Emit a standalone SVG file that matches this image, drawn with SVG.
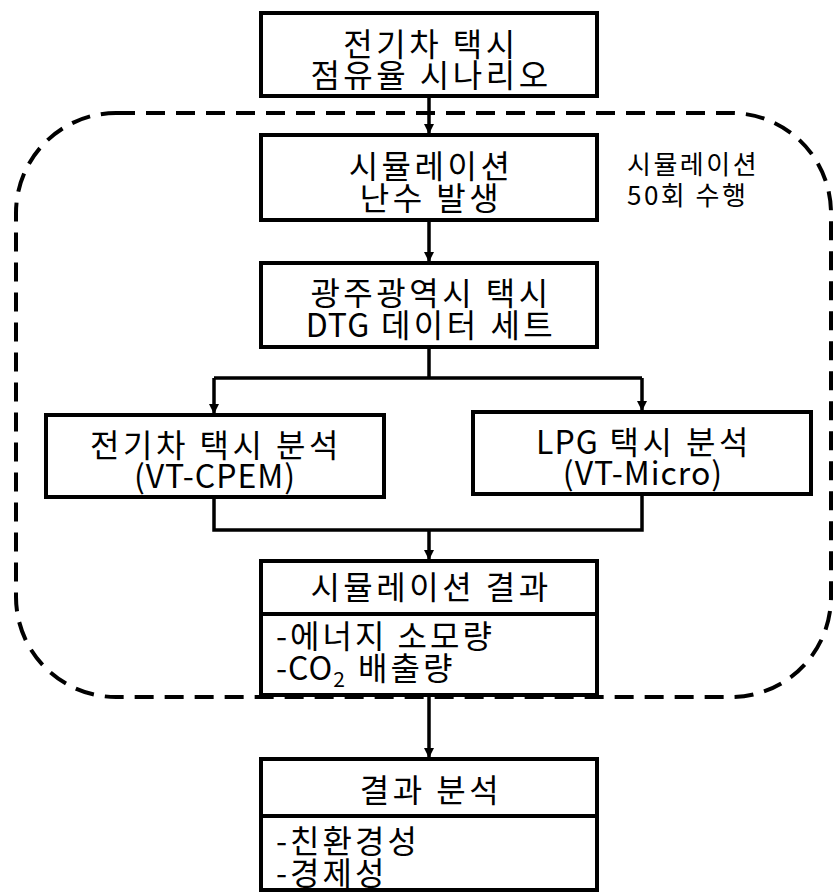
<svg xmlns="http://www.w3.org/2000/svg" width="834" height="894" viewBox="0 0 834 894">
<style>
.box{fill:#fff;stroke:#000;stroke-width:4}
.t{font-family:"Noto Sans CJK KR","Malgun Gothic",sans-serif;font-size:32px;letter-spacing:3.5px;fill:#000;text-anchor:middle}
.tl{font-family:"Noto Sans CJK KR","Malgun Gothic",sans-serif;font-size:32px;letter-spacing:3px;fill:#000}
.s{font-family:"Noto Sans CJK KR",sans-serif;font-size:26px;letter-spacing:2.5px;fill:#000}
.lat{letter-spacing:1px}
.c{fill:none;stroke:#000;stroke-width:3.5}
</style>
<defs>
<marker id="ah" markerWidth="10" markerHeight="10" refX="9" refY="5" orient="auto" markerUnits="userSpaceOnUse">
<path d="M0,0 L10,5 L0,10 z" fill="#000"/>
</marker>
</defs>
<rect x="16" y="113" width="815" height="584" rx="100" ry="100" fill="none" stroke="#000" stroke-width="4" stroke-dasharray="19,11"/>
<g id="connectors">
<path class="c" d="M429,97 V133" marker-end="url(#ah)"/>
<path class="c" d="M429,221 V261" marker-end="url(#ah)"/>
<path class="c" d="M429,348 V378 M214,378 H642"/>
<path class="c" d="M214,378 V413" marker-end="url(#ah)"/>
<path class="c" d="M642,378 V410" marker-end="url(#ah)"/>
<path class="c" d="M214,498 V530 H642 V495"/>
<path class="c" d="M429,530 V559" marker-end="url(#ah)"/>
<path class="c" d="M429,696 V757" marker-end="url(#ah)"/>
</g>
<g id="n1">
<rect class="box" x="261" y="13" width="336" height="83"/>
<text class="t" x="431" y="56">전기차 택시</text>
<text class="t" x="431" y="87">점유율 시나리오</text>
</g>
<g id="n2">
<rect class="box" x="261" y="135" width="336" height="85"/>
<text class="t" x="431" y="178">시뮬레이션</text>
<text class="t" x="431" y="210">난수 발생</text>
</g>
<g id="label">
<text class="s" x="627" y="174">시뮬레이션</text>
<text class="s" x="627" y="205">50회 수행</text>
</g>
<g id="n3">
<rect class="box" x="261" y="263" width="336" height="84"/>
<text class="t" x="431" y="305">광주광역시 택시</text>
<text class="t" x="431" y="337"><tspan class="lat">DTG</tspan> 데이터 세트</text>
</g>
<g id="n4">
<rect class="box" x="46" y="415" width="338" height="82"/>
<text class="t" x="216" y="457">전기차 택시 분석</text>
<text class="t lat" x="215" y="488">(VT-CPEM)</text>
</g>
<g id="n5">
<rect class="box" x="473" y="412" width="338" height="82"/>
<text class="t" x="644" y="454"><tspan class="lat">LPG</tspan> 택시 분석</text>
<text class="t lat" x="643" y="485">(VT-Micro)</text>
</g>
<g id="n6">
<rect class="box" x="261" y="561" width="336" height="134"/>
<line x1="261" y1="614" x2="597" y2="614" stroke="#000" stroke-width="4"/>
<text class="t" x="431" y="599">시뮬레이션 결과</text>
<text class="tl" x="276" y="648">-에너지 소모량</text>
<text class="tl" x="276" y="680"><tspan class="lat">-CO</tspan><tspan font-size="21" dy="7">2</tspan><tspan dy="-7"> 배출량</tspan></text>
</g>
<g id="n7">
<rect class="box" x="261" y="759" width="336" height="131"/>
<line x1="261" y1="816" x2="597" y2="816" stroke="#000" stroke-width="4"/>
<text class="t" x="431" y="802">결과 분석</text>
<text class="tl" x="276" y="853">-친환경성</text>
<text class="tl" x="276" y="885">-경제성</text>
</g>
</svg>
